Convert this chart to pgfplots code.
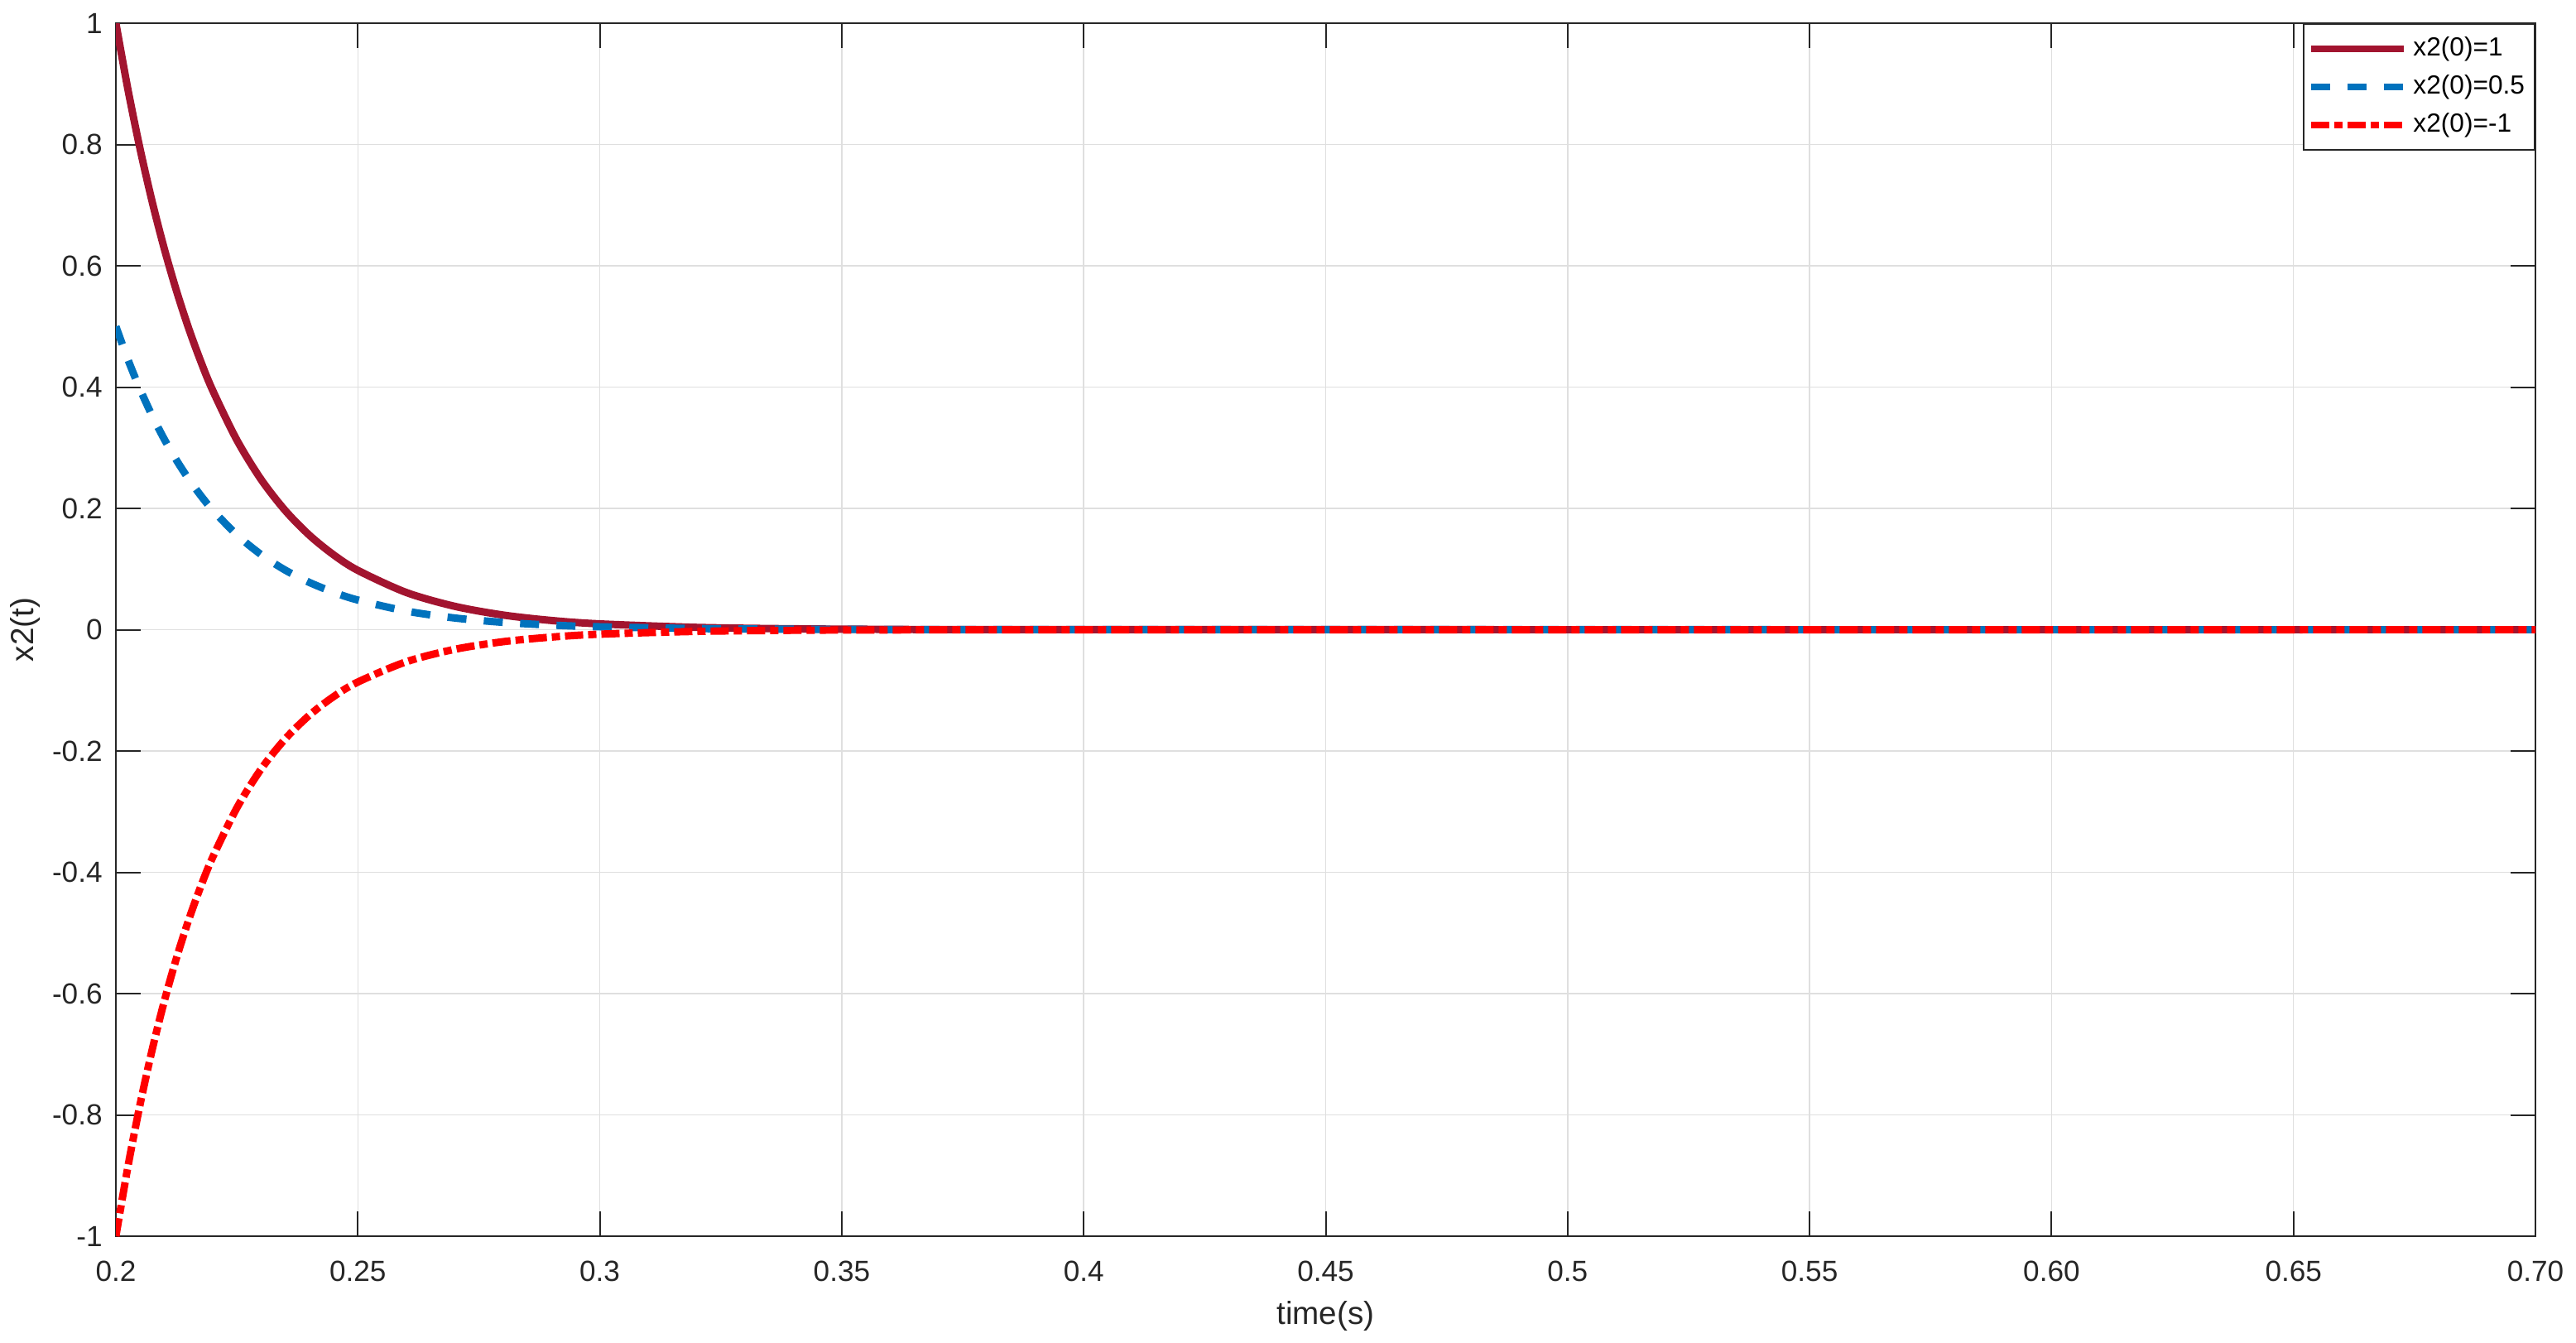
\documentclass[border=0pt]{standalone}
\usepackage{fontspec}
\setmainfont{Liberation Sans}
\usepackage{pgfplots}
\pgfplotsset{compat=1.18}

\definecolor{c1}{HTML}{A2142F}
\definecolor{c2}{HTML}{0072BD}
\definecolor{c3}{HTML}{FF0000}
\definecolor{axc}{HTML}{262626}
\definecolor{gridc}{HTML}{DFDFDF}

\begin{document}
\begin{tikzpicture}
\begin{axis}[
    scale only axis,
    width=29.23cm, height=14.65cm,
    xmin=0.2, xmax=0.7, ymin=-1, ymax=1,
    xtick={0.2,0.25,0.3,0.35,0.4,0.45,0.5,0.55,0.6,0.65,0.7},
    xticklabels={0.2,0.25,0.3,0.35,0.4,0.45,0.5,0.55,0.60,0.65,0.70},
    ytick={-1,-0.8,-0.6,-0.4,-0.2,0,0.2,0.4,0.6,0.8,1},
    yticklabels={-1,-0.8,-0.6,-0.4,-0.2,0,0.2,0.4,0.6,0.8,1},
    grid=major, major grid style={gridc, line width=0.43pt},
    axis line style={axc, line width=0.57pt},
    tick style={axc, line width=0.57pt},
    tick align=inside, major tick length=0.3cm,
    ticklabel style={font=\fontsize{10}{12}\selectfont, text=axc},
    xticklabel style={yshift=-0.18cm},
    yticklabel style={xshift=-0.04cm},
    xlabel={time(s)}, ylabel={x2(t)},
    label style={font=\fontsize{11}{13}\selectfont, text=axc},
    xlabel style={at={(axis description cs:0.5,-0.0730)}, anchor=base},
    ylabel style={at={(axis description cs:-0.0339,0.5)}, anchor=base},
    legend style={at={(1,1)}, anchor=north east, draw=axc, line width=0.57pt,
        fill=white, font=\fontsize{9}{11}\selectfont, text=black,
        inner xsep=0.05cm, inner ysep=0.09cm, row sep=0.035cm},
    legend cell align=left,
    legend image code/.code={\draw[#1, line width=2.3pt] (0cm,0cm) -- (1.12cm,0cm);},
]
\addplot[c1, line width=2.55pt, smooth] coordinates {
    (0.2,1) (0.2025,0.8903) (0.205,0.7926) (0.2075,0.7056) (0.21,0.6282)
    (0.2125,0.5593) (0.215,0.4978) (0.2175,0.4432) (0.22,0.3946) (0.225,0.3127)
    (0.23,0.2478) (0.235,0.1964) (0.24,0.1557) (0.245,0.1234) (0.25,0.0978)
    (0.26,0.0614) (0.27,0.0386) (0.28,0.0242) (0.29,0.0152) (0.30,0.0096)
    (0.32,0.0038) (0.34,0.0015) (0.36,0.0006) (0.40,0.0001) (0.70,0)
};
\addlegendentry{x2(0)=1}
\addplot[c2, line width=2.55pt, smooth, dash pattern=on 0.23cm off 0.21cm] coordinates {
    (0.2,0.5) (0.2025,0.4452) (0.205,0.3963) (0.2075,0.3528) (0.21,0.3141)
    (0.2125,0.2797) (0.215,0.2489) (0.2175,0.2216) (0.22,0.1973) (0.225,0.1564)
    (0.23,0.1239) (0.235,0.0982) (0.24,0.0779) (0.245,0.0617) (0.25,0.0489)
    (0.26,0.0307) (0.27,0.0193) (0.28,0.0121) (0.29,0.0076) (0.30,0.0048)
    (0.32,0.0019) (0.34,0.0008) (0.36,0.0003) (0.40,0.0001) (0.70,0)
};
\addlegendentry{x2(0)=0.5}
\addplot[c3, line width=2.55pt, smooth, dash pattern=on 0.22cm off 0.06cm on 0.10cm off 0.06cm] coordinates {
    (0.2,-1) (0.2025,-0.8847) (0.205,-0.7827) (0.2075,-0.6925) (0.21,-0.6126)
    (0.2125,-0.5420) (0.215,-0.4795) (0.2175,-0.4242) (0.22,-0.3753) (0.225,-0.2938)
    (0.23,-0.2299) (0.235,-0.1800) (0.24,-0.1409) (0.245,-0.1103) (0.25,-0.0863)
    (0.26,-0.0529) (0.27,-0.0324) (0.28,-0.0198) (0.29,-0.0122) (0.30,-0.0074)
    (0.32,-0.0028) (0.34,-0.0010) (0.36,-0.0004) (0.40,-0.0001) (0.70,0)
};
\addlegendentry{x2(0)=-1}
\end{axis}
\path (current axis.south west) ++(-1.40cm,-1.28cm) rectangle ++(31.12cm,16.21cm);
\end{tikzpicture}
\end{document}
